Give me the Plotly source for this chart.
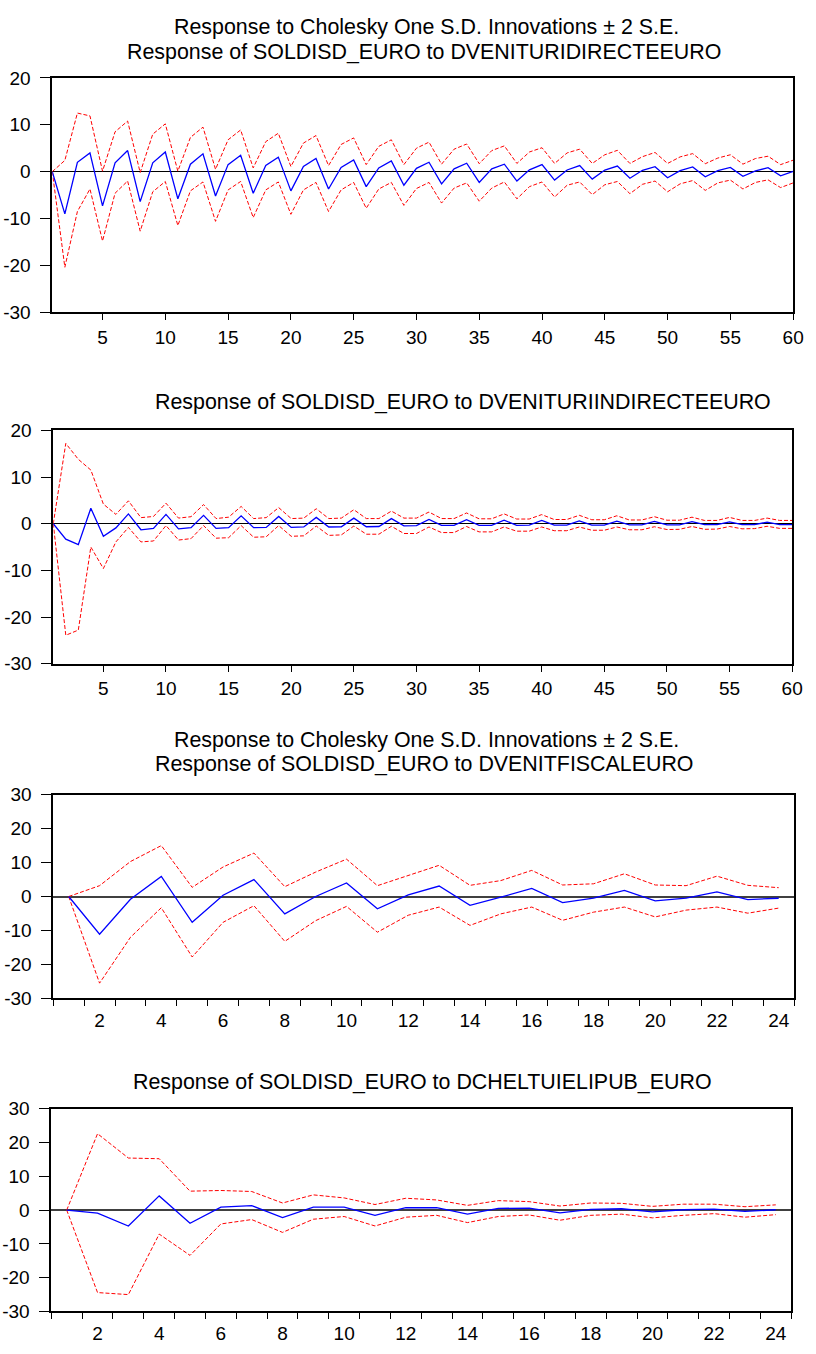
import plotly.graph_objects as go

W, H = 816, 1354

# ---------------- data ----------------
periods_60 = list(range(1, 61))
periods_24 = list(range(1, 25))

resp_direct = [0, -9.0, 2.0, 4.0, -7.3, 1.9, 4.5, -6.4, 1.9, 4.2, -5.8, 1.6, 3.8, -5.2, 1.5, 3.5, -4.6, 1.3, 3.1, -4.1,
               1.1, 2.8, -3.7, 0.9, 2.5, -3.2, 0.8, 2.3, -2.9, 0.7, 2.0, -2.6, 0.6, 1.8, -2.3, 0.6, 1.6, -2.0, 0.4, 1.5,
               -1.8, 0.35, 1.3, -1.6, 0.35, 1.2, -1.4, 0.3, 1.05, -1.3, 0.2, 1.0, -1.1, 0.2, 0.9, -1.0, 0.15, 0.85, -0.9, 0.05]
upper_direct = [0, 2.4, 12.5, 11.9, 0.1, 8.5, 10.8, -0.2, 8.0, 10.2, 0.1, 7.3, 9.5, 0.5, 6.8, 8.9, 0.8, 6.4, 8.2, 1.1,
                6.1, 7.7, 1.3, 5.8, 7.2, 1.5, 5.4, 6.8, 1.5, 5.0, 6.3, 1.6, 4.8, 5.9, 1.7, 4.5, 5.5, 1.75, 4.2, 5.1,
                1.75, 4.0, 4.8, 1.75, 3.6, 4.55, 1.75, 3.2, 4.1, 1.75, 3.15, 3.85, 1.7, 2.9, 3.6, 1.6, 2.8, 3.3, 1.5, 2.45]
lower_direct = [0, -20.4, -8.5, -3.7, -14.8, -4.6, -2.0, -12.7, -4.3, -2.1, -11.5, -4.1, -2.2, -10.6, -3.9, -2.1, -9.8, -3.9, -2.2, -9.1,
                -3.9, -2.3, -8.5, -3.9, -2.3, -7.8, -3.7, -2.3, -7.2, -3.6, -2.3, -6.7, -3.5, -2.4, -6.3, -3.5, -2.2, -5.8, -3.2, -2.2,
                -5.4, -2.9, -2.2, -4.9, -2.8, -2.1, -4.7, -2.7, -2.0, -4.3, -2.6, -1.9, -4.0, -2.4, -1.8, -3.7, -2.3, -1.75, -3.4, -2.4]

resp_indirect = [0, -3.3, -4.5, 3.3, -2.7, -0.9, 2.1, -1.3, -1.0, 2.0, -1.1, -0.85, 1.8, -1.0, -0.85, 1.7, -0.85, -0.8, 1.55, -0.8,
                 -0.7, 1.35, -0.7, -0.65, 1.2, -0.65, -0.6, 1.1, -0.45, -0.4, 0.9, -0.35, -0.35, 0.85, -0.35, -0.35, 0.75, -0.35, -0.3, 0.7,
                 -0.3, -0.3, 0.6, -0.3, -0.3, 0.55, -0.25, -0.25, 0.5, -0.25, -0.25, 0.45, -0.2, -0.2, 0.4, -0.2, -0.2, 0.35, -0.2, -0.2]
upper_indirect = [0, 17.2, 13.8, 11.5, 4.2, 2.0, 4.9, 1.3, 1.55, 4.4, 1.2, 1.5, 4.1, 1.1, 1.4, 3.7, 1.1, 1.3, 3.45, 1.1,
                  1.2, 3.2, 1.1, 1.2, 3.0, 1.1, 1.1, 2.7, 1.2, 1.2, 2.5, 1.1, 1.1, 2.3, 1.05, 1.05, 2.1, 1.0, 1.0, 1.95,
                  0.9, 0.9, 1.8, 0.85, 0.85, 1.7, 0.8, 0.8, 1.5, 0.75, 0.75, 1.4, 0.7, 0.7, 1.35, 0.7, 0.7, 1.2, 0.7, 0.7]
lower_indirect = [0, -23.9, -22.8, -5.0, -9.6, -3.9, -0.8, -3.9, -3.7, -0.4, -3.5, -3.2, -0.4, -3.1, -3.0, -0.4, -2.9, -2.8, -0.4, -2.7,
                  -2.6, -0.5, -2.5, -2.4, -0.5, -2.25, -2.25, -0.55, -2.1, -2.1, -0.7, -1.9, -1.9, -0.6, -1.75, -1.75, -0.7, -1.6, -1.6, -0.7,
                  -1.5, -1.5, -0.7, -1.4, -1.4, -0.7, -1.3, -1.3, -0.65, -1.25, -1.2, -0.6, -1.2, -1.15, -0.6, -1.1, -1.05, -0.55, -1.0, -1.0]

resp_fiscal = [0, -11.1, -0.8, 5.9, -7.6, 0.4, 5.0, -5.1, 0.0, 4.0, -3.6, 0.5, 3.1, -2.6, -0.2, 2.4, -1.8, -0.5, 1.8, -1.25,
               -0.5, 1.35, -0.9, -0.5]
upper_fiscal = [0, 3.2, 10.3, 15.0, 2.7, 8.7, 12.8, 2.9, 7.2, 11.0, 3.2, 6.25, 9.2, 3.3, 4.7, 7.7, 3.4, 3.75, 6.7, 3.4,
                3.2, 6.0, 3.3, 2.6]
lower_fiscal = [0, -25.5, -12.0, -3.3, -17.8, -7.6, -2.7, -13.2, -7.1, -2.9, -10.5, -5.5, -3.1, -8.5, -5.1, -3.1, -7.0, -4.6, -3.1, -6.0,
                -4.0, -3.1, -4.9, -3.4]

resp_chelt = [0, -0.9, -4.7, 4.2, -3.9, 0.9, 1.35, -2.2, 0.9, 0.9, -1.55, 0.7, 0.7, -1.2, 0.5, 0.6, -0.8, 0.2, 0.4, -0.5,
              0.1, 0.3, -0.4, 0.1]
upper_chelt = [0, 22.6, 15.4, 15.2, 5.6, 5.8, 5.5, 2.1, 4.5, 3.6, 1.65, 3.5, 3.0, 1.4, 2.8, 2.5, 1.2, 2.1, 2.0, 1.1,
               1.75, 1.75, 1.0, 1.55]
lower_chelt = [0, -24.4, -25.0, -7.1, -13.4, -4.1, -2.8, -6.6, -2.7, -1.9, -4.7, -2.1, -1.55, -3.7, -1.9, -1.45, -3.0, -1.55, -1.2, -2.3,
               -1.55, -1.05, -2.1, -1.35]

title_head = "Response to Cholesky One S.D. Innovations \u00b1 2 S.E."
titles = [
    "Response of SOLDISD_EURO to DVENITURIDIRECTEEURO",
    "Response of SOLDISD_EURO to DVENITURIINDIRECTEEURO",
    "Response of SOLDISD_EURO to DVENITFISCALEURO",
    "Response of SOLDISD_EURO to DCHELTUIELIPUB_EURO",
]
ticks_60 = [5, 10, 15, 20, 25, 30, 35, 40, 45, 50, 55, 60]
ticks_24 = [2, 4, 6, 8, 10, 12, 14, 16, 18, 20, 22, 24]
ticks_y1 = [-30, -20, -10, 0, 10, 20]
ticks_y2 = [-30, -20, -10, 0, 10, 20, 30]

# ---------------- layout (pixel boxes) ----------------
FONT = "Liberation Sans, Arial, sans-serif"
TICKF = 19
TITLEF = 21.4

panels = [
    dict(x=periods_60, r=resp_direct, u=upper_direct, l=lower_direct, box=(53, 804, 69, 307),
         xr=[1, 60], yr=[-30, 20], yt=ticks_y1, xt=ticks_60, zc="black", zw=1.2),
    dict(x=periods_60, r=resp_indirect, u=upper_indirect, l=lower_indirect, box=(54, 803, 427, 664),
         xr=[1, 60], yr=[-30, 20], yt=ticks_y1, xt=ticks_60, zc="black", zw=1.2),
    dict(x=periods_24, r=resp_fiscal, u=upper_fiscal, l=lower_fiscal, box=(54, 805, 797, 1004),
         xr=[0.5, 24.5], yr=[-30, 30], yt=ticks_y2, xt=ticks_24, zc="#404040", zw=2.2),
    dict(x=periods_24, r=resp_chelt, u=upper_chelt, l=lower_chelt, box=(52, 802, 1116, 1322),
         xr=[0.5, 24.5], yr=[-30, 30], yt=ticks_y2, xt=ticks_24, zc="#404040", zw=2.2),
]

fig = go.Figure()
layout = dict(width=W, height=H, autosize=False, margin=dict(l=0, r=0, t=0, b=0),
              paper_bgcolor="white", plot_bgcolor="white", showlegend=False,
              font=dict(family=FONT, size=TICKF, color="black"))

for i, p in enumerate(panels, start=1):
    sfx = "" if i == 1 else str(i)
    x0, x1, y0, y1 = p["box"]
    xa = dict(domain=[x0 / W, x1 / W], range=p["xr"], anchor="y" + sfx,
              showgrid=False, zeroline=False, showline=True, linecolor="black", linewidth=1.6,
              mirror=True, tickmode="array", tickvals=p["xt"], ticktext=[str(v) for v in p["xt"]],
              tickfont=dict(size=TICKF, family=FONT, color="black"))
    if p["xr"][1] == 60:
        xa.update(ticks="outside", ticklen=6, tickwidth=1.2, tickcolor="black", ticklabelstandoff=1)
    else:
        half = [k + 0.5 for k in range(0, 25)]
        xa.update(ticks="", ticklabelstandoff=4,
                  minor=dict(tickmode="array", tickvals=half, ticks="outside",
                             ticklen=6, tickwidth=1.2, tickcolor="black", showgrid=False))
    ya = dict(domain=[1 - y1 / H, 1 - y0 / H], range=p["yr"], anchor="x" + sfx,
              showgrid=False, zeroline=True, zerolinecolor=p["zc"], zerolinewidth=p["zw"],
              showline=True, linecolor="black", linewidth=1.6, mirror=True,
              tickmode="array", tickvals=p["yt"], ticktext=[str(v) for v in p["yt"]],
              ticks="outside", ticklen=10, tickwidth=1.2, tickcolor="black", ticklabelstandoff=6,
              tickfont=dict(size=TICKF, family=FONT, color="black"))
    layout["xaxis" + sfx] = xa
    layout["yaxis" + sfx] = ya

    fig.add_trace(go.Scatter(x=p["x"], y=p["u"], mode="lines", xaxis="x" + sfx, yaxis="y" + sfx,
                             line=dict(color="#FF0000", width=1, dash="4px,2px")))
    fig.add_trace(go.Scatter(x=p["x"], y=p["l"], mode="lines", xaxis="x" + sfx, yaxis="y" + sfx,
                             line=dict(color="#FF0000", width=1, dash="4px,2px")))
    fig.add_trace(go.Scatter(x=p["x"], y=p["r"], mode="lines", xaxis="x" + sfx, yaxis="y" + sfx,
                             line=dict(color="#0000FF", width=1.3)))

ann = []
def add_title(text, cx, cy):
    ann.append(dict(text=text, x=cx / W, y=1 - cy / H, xref="paper", yref="paper",
                    xanchor="center", yanchor="middle", showarrow=False,
                    font=dict(size=TITLEF, family=FONT, color="black")))

add_title(title_head, 432, 17)
add_title(titles[0], 430, 43)
add_title(titles[1], 469, 398)
add_title(title_head, 432, 741)
add_title(titles[2], 430, 766)
add_title(titles[3], 428, 1089)
layout["annotations"] = ann

fig.update_layout(**layout)

page_js = """
var gd = document.getElementById('{plot_id}');
document.documentElement.style.margin='0';
document.body.style.margin='0';
document.body.style.padding='0';
gd.style.position='fixed'; gd.style.left='0px'; gd.style.top='0px';
"""

fig.write_html("out.html", config={"displayModeBar": False}, post_script=page_js)
